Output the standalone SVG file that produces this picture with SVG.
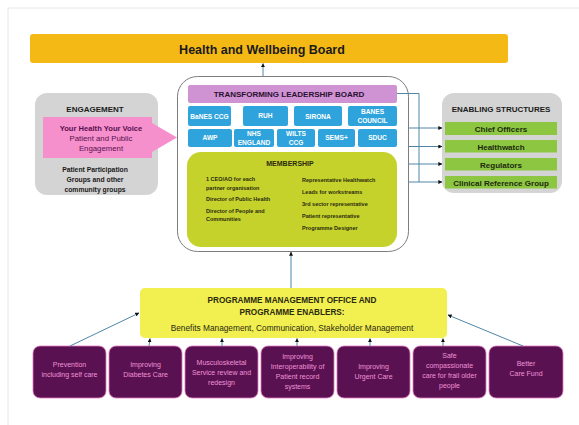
<svg xmlns="http://www.w3.org/2000/svg" width="579" height="425" viewBox="0 0 579 425">
  <style>
    text { font-family: "Liberation Sans", Arial, sans-serif; text-anchor: middle; }
    .b { font-weight: bold; }
    .panel { fill: #d4d4d4; }
    .blue { fill: #2ea3dc; }
    .blue-t { fill: #ffffff; font-size: 6.6px; font-weight: bold; }
    .green { fill: #8dc641; }
    .green-t { fill: #1c2a10; font-size: 8px; font-weight: bold; }
    .mem-t { fill: #2a2a10; font-size: 5.5px; font-weight: bold; text-anchor: start; }
    .work { fill: #5a1152; stroke: #e27bbf; stroke-width: 0.8; }
    .work-t { fill: #ee93d4; font-size: 7px; }
    .link { fill: none; stroke: #4f86a8; stroke-width: 1; }
  </style>
  <defs>
    <marker id="head" viewBox="0 0 6 6" refX="5.5" refY="3" markerWidth="4" markerHeight="4" orient="auto" markerUnits="userSpaceOnUse">
      <path d="M0,0 L6,3 L0,6 z" fill="#111"/>
    </marker>
  </defs>

  <!-- page frame -->
  <rect width="579" height="425" fill="#ffffff"/>
  <path d="M8,425 V8 H579" fill="none" stroke="#e6e6e6" stroke-width="1"/>

  <!-- top board -->
  <g id="hwb">
    <rect x="30" y="34" width="478" height="29" rx="3" fill="#f5b916"/>
    <text x="262" y="53.5" class="b" font-size="12.5" fill="#1a1a1a">Health and Wellbeing Board</text>
  </g>

  <!-- transforming leadership board -->
  <g id="tlb">
    <rect x="177.5" y="76.5" width="231" height="175" rx="20" fill="#ffffff" stroke="#7d7d7d" stroke-width="1"/>
    <rect x="188" y="85" width="209" height="18" rx="2" fill="#cf93d3"/>
    <text x="289" y="97" class="b" font-size="8" fill="#2a1030">TRANSFORMING LEADERSHIP BOARD</text>
  </g>

  <g id="partners">
    <rect class="blue" x="188" y="106" width="43" height="20" rx="2"/>
    <text class="blue-t" x="209.5" y="118.5">BaNES CCG</text>
    <rect class="blue" x="243" y="106" width="45" height="20" rx="2"/>
    <text class="blue-t" x="265.5" y="117.5">RUH</text>
    <rect class="blue" x="294" y="106" width="48" height="20" rx="2"/>
    <text class="blue-t" x="318" y="118.5">SIRONA</text>
    <rect class="blue" x="348" y="106" width="49" height="20" rx="2"/>
    <text class="blue-t" x="372.5" y="114">BANES</text>
    <text class="blue-t" x="372.5" y="123">COUNCIL</text>

    <rect class="blue" x="188" y="129" width="44" height="18" rx="2"/>
    <text class="blue-t" x="210" y="140">AWP</text>
    <rect class="blue" x="234" y="129" width="40" height="18" rx="2"/>
    <text class="blue-t" x="254" y="136">NHS</text>
    <text class="blue-t" x="254" y="144.5">ENGLAND</text>
    <rect class="blue" x="277" y="129" width="38" height="18" rx="2"/>
    <text class="blue-t" x="296" y="136">WILTS</text>
    <text class="blue-t" x="296" y="144.5">CCG</text>
    <rect class="blue" x="318" y="129" width="37" height="18" rx="2"/>
    <text class="blue-t" x="336.5" y="140">SEMS+</text>
    <rect class="blue" x="358" y="129" width="39" height="18" rx="2"/>
    <text class="blue-t" x="377.5" y="140">SDUC</text>
  </g>

  <g id="membership">
    <rect x="187" y="152" width="210" height="95" rx="14" fill="#c5d22c"/>
    <text x="290" y="166" class="b" font-size="7" fill="#2a2a10">MEMBERSHIP</text>
    <text class="mem-t" x="206" y="181">1 CEO/AO for each</text>
    <text class="mem-t" x="206" y="189.5">partner organisation</text>
    <text class="mem-t" x="206" y="201">Director of Public Health</text>
    <text class="mem-t" x="206" y="212.5">Director of People and</text>
    <text class="mem-t" x="206" y="221">Communities</text>
    <text class="mem-t" x="302" y="182">Representative Healthwatch</text>
    <text class="mem-t" x="302" y="194">Leads for workstreams</text>
    <text class="mem-t" x="302" y="206">3rd sector representative</text>
    <text class="mem-t" x="302" y="218">Patient representative</text>
    <text class="mem-t" x="302" y="230">Programme Designer</text>
  </g>

  <!-- engagement -->
  <g id="engagement">
    <rect class="panel" x="35" y="93" width="123" height="102" rx="12"/>
    <text x="95" y="112" class="b" font-size="8" fill="#1a1a1a">ENGAGEMENT</text>
    <path d="M43,117 H152 V123 L177,137.5 L152,152 V158 H43 z" fill="#f590cd"/>
    <text x="101" y="130.5" class="b" font-size="7.6" fill="#5a1050">Your Health Your Voice</text>
    <text x="101" y="140.5" font-size="7.8" fill="#5a1050">Patient and Public</text>
    <text x="101" y="150.5" font-size="7.8" fill="#5a1050">Engagement</text>
    <text x="95" y="172" class="b" font-size="6.8" fill="#1a1a1a">Patient Participation</text>
    <text x="95" y="182" class="b" font-size="6.8" fill="#1a1a1a">Groups and other</text>
    <text x="95" y="192" class="b" font-size="6.8" fill="#1a1a1a">community groups</text>
  </g>

  <!-- enabling structures -->
  <g id="enabling">
    <rect class="panel" x="442" y="93" width="120" height="100" rx="12"/>
    <text x="501" y="112" class="b" font-size="8" fill="#1a1a1a">ENABLING STRUCTURES</text>
    <rect class="green" x="445" y="122" width="112" height="13"/>
    <text class="green-t" x="501" y="131.5">Chief Officers</text>
    <rect class="green" x="445" y="140" width="112" height="12.5"/>
    <text class="green-t" x="501" y="149.5">Healthwatch</text>
    <rect class="green" x="445" y="158" width="112" height="12.5"/>
    <text class="green-t" x="501" y="167.5">Regulators</text>
    <rect class="green" x="445" y="176" width="112" height="12.5"/>
    <text class="green-t" x="501" y="185.5">Clinical Reference Group</text>
  </g>

  <!-- programme management office -->
  <g id="pmo">
    <rect x="140" y="288" width="307" height="50" rx="5" fill="#f2ef50"/>
    <text x="292" y="303" class="b" font-size="8.2" fill="#2a2a10">PROGRAMME MANAGEMENT OFFICE AND</text>
    <text x="292" y="314.5" class="b" font-size="8.2" fill="#2a2a10">PROGRAMME ENABLERS:</text>
    <text x="292" y="331" font-size="8.3" fill="#2a2a10">Benefits Management, Communication, Stakeholder Management</text>
  </g>

  <!-- workstreams -->
  <g id="ws-prevention">
    <rect class="work" x="33" y="346" width="73" height="52" rx="7"/>
    <text class="work-t" x="69.5" y="367">Prevention</text>
    <text class="work-t" x="69.5" y="377">including self care</text>
  </g>
  <g id="ws-diabetes">
    <rect class="work" x="109" y="346" width="73" height="52" rx="7"/>
    <text class="work-t" x="145.5" y="367">Improving</text>
    <text class="work-t" x="145.5" y="377">Diabetes Care</text>
  </g>
  <g id="ws-msk">
    <rect class="work" x="185" y="346" width="73" height="52" rx="7"/>
    <text class="work-t" x="221.5" y="365">Musculoskeletal</text>
    <text class="work-t" x="221.5" y="375">Service review and</text>
    <text class="work-t" x="221.5" y="385">redesign</text>
  </g>
  <g id="ws-records">
    <rect class="work" x="261" y="346" width="73" height="52" rx="7"/>
    <text class="work-t" x="297.5" y="359">Improving</text>
    <text class="work-t" x="297.5" y="369">Interoperability of</text>
    <text class="work-t" x="297.5" y="379">Patient record</text>
    <text class="work-t" x="297.5" y="389">systems</text>
  </g>
  <g id="ws-urgent">
    <rect class="work" x="337" y="346" width="73" height="52" rx="7"/>
    <text class="work-t" x="373.5" y="369">Improving</text>
    <text class="work-t" x="373.5" y="379">Urgent Care</text>
  </g>
  <g id="ws-frail">
    <rect class="work" x="413" y="346" width="73" height="52" rx="7"/>
    <text class="work-t" x="449.5" y="358">Safe</text>
    <text class="work-t" x="449.5" y="368">compassionate</text>
    <text class="work-t" x="449.5" y="378">care for frail older</text>
    <text class="work-t" x="449.5" y="388">people</text>
  </g>
  <g id="ws-bcf">
    <rect class="work" x="489" y="346" width="74" height="52" rx="7"/>
    <text class="work-t" x="526" y="366">Better</text>
    <text class="work-t" x="526" y="376">Care Fund</text>
  </g>

  <!-- connectors -->
  <g id="connectors">
    <line class="link" x1="263" y1="76" x2="263" y2="63.5" marker-end="url(#head)"/>
    <line class="link" x1="291" y1="288" x2="291" y2="252" marker-end="url(#head)"/>
    <path class="link" d="M397,93.5 H419 V182"/>
    <line class="link" x1="409" y1="128" x2="442" y2="128" marker-end="url(#head)"/>
    <line class="link" x1="409" y1="146.5" x2="442" y2="146.5" marker-end="url(#head)"/>
    <line class="link" x1="409" y1="164" x2="442" y2="164" marker-end="url(#head)"/>
    <line class="link" x1="409" y1="182" x2="442" y2="182" marker-end="url(#head)"/>
    <line class="link" x1="70" y1="346" x2="139" y2="313" marker-end="url(#head)"/>
    <line class="link" x1="149" y1="346" x2="150" y2="338.5" marker-end="url(#head)"/>
    <line class="link" x1="222" y1="346" x2="222" y2="338.5" marker-end="url(#head)"/>
    <line class="link" x1="297" y1="346" x2="297" y2="338.5" marker-end="url(#head)"/>
    <line class="link" x1="370" y1="346" x2="370" y2="338.5" marker-end="url(#head)"/>
    <line class="link" x1="443" y1="346" x2="443" y2="338.5" marker-end="url(#head)"/>
    <line class="link" x1="523" y1="346" x2="448" y2="315" marker-end="url(#head)"/>
  </g>
</svg>
